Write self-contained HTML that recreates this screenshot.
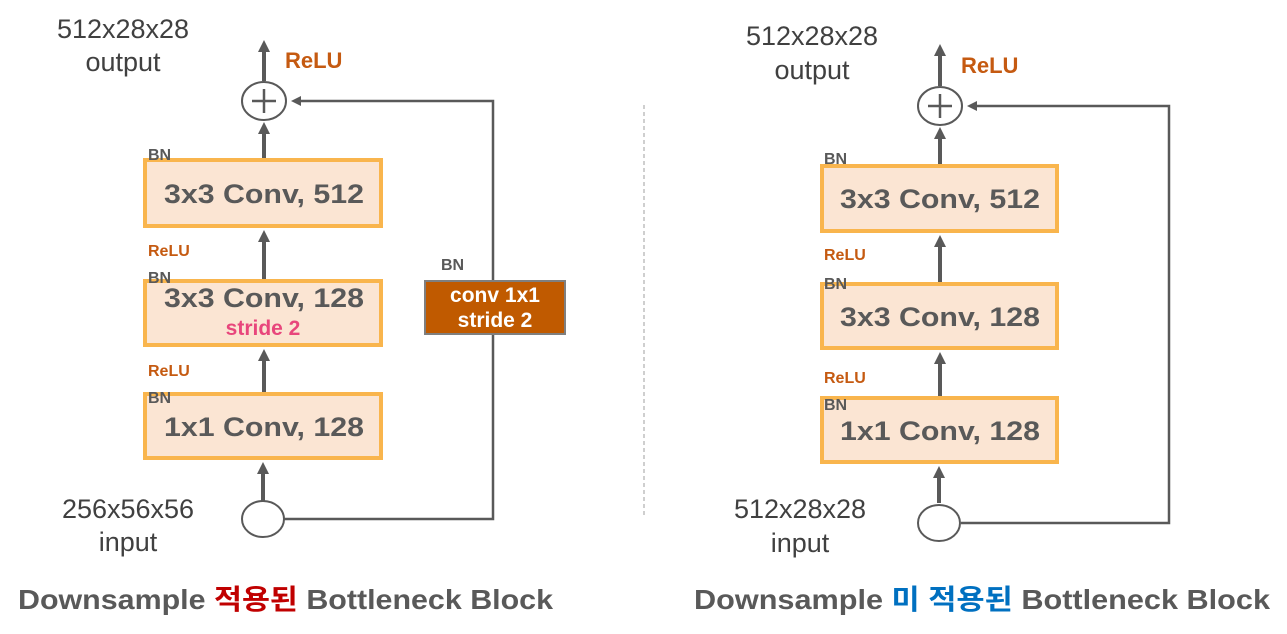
<!DOCTYPE html>
<html><head><meta charset="utf-8"><style>
html,body{margin:0;padding:0;background:#fff;}
svg{display:block;}
text{font-family:"Liberation Sans","Noto Sans CJK KR",sans-serif;}
</style></head><body>
<svg width="1287" height="634" viewBox="0 0 1287 634" xmlns="http://www.w3.org/2000/svg">
<defs>
<marker id="ah" markerWidth="10" markerHeight="10" refX="5" refY="5" orient="auto" markerUnits="userSpaceOnUse"><path d="M0,0 L10,5 L0,10 z" fill="#595959"/></marker>
<marker id="ah2" markerWidth="12" markerHeight="12" refX="6" refY="6" orient="auto" markerUnits="userSpaceOnUse"><path d="M0,0 L12,6 L0,12 z" fill="#595959"/></marker>
</defs>
<g stroke="#595959" stroke-width="2.5" fill="none">
<polyline points="284,519 493,519 493,101 296,101" marker-end="url(#ah)"/>
<polyline points="961,523 1169,523 1169,106 972,106" marker-end="url(#ah)"/>
</g>
<g fill="#fbe5d3" stroke="#f9b54d" stroke-width="4">
<rect x="145" y="160" width="236" height="66"/>
<rect x="145" y="281" width="236" height="64"/>
<rect x="145" y="394" width="236" height="64"/>
<rect x="822" y="166" width="235" height="65"/>
<rect x="822" y="284" width="235" height="64"/>
<rect x="822" y="398" width="235" height="64"/>
</g>
<rect x="425" y="281" width="140" height="53" fill="#c05a00" stroke="#7f7f7f" stroke-width="2"/>
<line x1="644" y1="105" x2="644" y2="515" stroke="#bfbfbf" stroke-width="1.5" stroke-dasharray="4,3"/>
<g stroke="#595959" stroke-width="4" fill="none">
<line x1="264" y1="81" x2="264" y2="46" marker-end="url(#ah2)"/>
<line x1="264" y1="158" x2="264" y2="128" marker-end="url(#ah2)"/>
<line x1="264" y1="279" x2="264" y2="236" marker-end="url(#ah2)"/>
<line x1="264" y1="392" x2="264" y2="355" marker-end="url(#ah2)"/>
<line x1="263" y1="501" x2="263" y2="468" marker-end="url(#ah2)"/>
<line x1="940" y1="86" x2="940" y2="50" marker-end="url(#ah2)"/>
<line x1="940" y1="164" x2="940" y2="133" marker-end="url(#ah2)"/>
<line x1="940" y1="282" x2="940" y2="241" marker-end="url(#ah2)"/>
<line x1="940" y1="396" x2="940" y2="358" marker-end="url(#ah2)"/>
<line x1="939" y1="503" x2="939" y2="472" marker-end="url(#ah2)"/>
</g>
<g stroke="#595959" stroke-width="2" fill="#fff">
<ellipse cx="264" cy="101" rx="22" ry="19"/>
<ellipse cx="940" cy="106" rx="22" ry="19"/>
<ellipse cx="263" cy="519" rx="21" ry="18"/>
<ellipse cx="939" cy="523" rx="21" ry="18"/>
</g>
<g stroke="#595959" stroke-width="2.5">
<line x1="252" y1="101" x2="276" y2="101"/><line x1="264" y1="89" x2="264" y2="113"/>
<line x1="928" y1="106" x2="952" y2="106"/><line x1="940" y1="94" x2="940" y2="118"/>
</g>
<g fill="#404040" font-size="27" text-anchor="middle">
<text x="123" y="38">512x28x28</text><text x="123" y="71">output</text>
<text x="128" y="518">256x56x56</text><text x="128" y="551">input</text>
<text x="812" y="45">512x28x28</text><text x="812" y="79">output</text>
<text x="800" y="518">512x28x28</text><text x="800" y="552">input</text>
</g>
<g fill="#c55a11" font-weight="bold">
<text x="285" y="68" font-size="22">ReLU</text>
<text x="961" y="73" font-size="22">ReLU</text>
<text x="148" y="256" font-size="16">ReLU</text>
<text x="148" y="376" font-size="16">ReLU</text>
<text x="824" y="260" font-size="16">ReLU</text>
<text x="824" y="383" font-size="16">ReLU</text>
</g>
<g fill="#595959" font-weight="bold" font-size="16">
<text x="148" y="160">BN</text><text x="148" y="283">BN</text><text x="148" y="403">BN</text>
<text x="824" y="164">BN</text><text x="824" y="289">BN</text><text x="824" y="410">BN</text>
<text x="441" y="270">BN</text>
</g>
<g fill="#595959" font-weight="bold" font-size="27" text-anchor="middle">
<text x="264" y="203" textLength="200" lengthAdjust="spacingAndGlyphs">3x3 Conv, 512</text>
<text x="264" y="307" textLength="200" lengthAdjust="spacingAndGlyphs">3x3 Conv, 128</text>
<text x="264" y="436" textLength="200" lengthAdjust="spacingAndGlyphs">1x1 Conv, 128</text>
<text x="940" y="208" textLength="200" lengthAdjust="spacingAndGlyphs">3x3 Conv, 512</text>
<text x="940" y="326" textLength="200" lengthAdjust="spacingAndGlyphs">3x3 Conv, 128</text>
<text x="940" y="440" textLength="200" lengthAdjust="spacingAndGlyphs">1x1 Conv, 128</text>
</g>
<text x="263" y="335" fill="#e8467c" font-weight="bold" font-size="21" text-anchor="middle">stride 2</text>
<g fill="#fff" font-weight="bold" font-size="21" text-anchor="middle">
<text x="495" y="302">conv 1x1</text><text x="495" y="327">stride 2</text>
</g>
<text x="18" y="609" font-size="28" font-weight="bold" fill="#595959" textLength="535" lengthAdjust="spacingAndGlyphs">Downsample <tspan fill="#c00000">적용된</tspan> Bottleneck Block</text>
<text x="694" y="609" font-size="28" font-weight="bold" fill="#595959" textLength="576" lengthAdjust="spacingAndGlyphs">Downsample <tspan fill="#0070c0">미 적용된</tspan> Bottleneck Block</text>
</svg>
</body></html>
